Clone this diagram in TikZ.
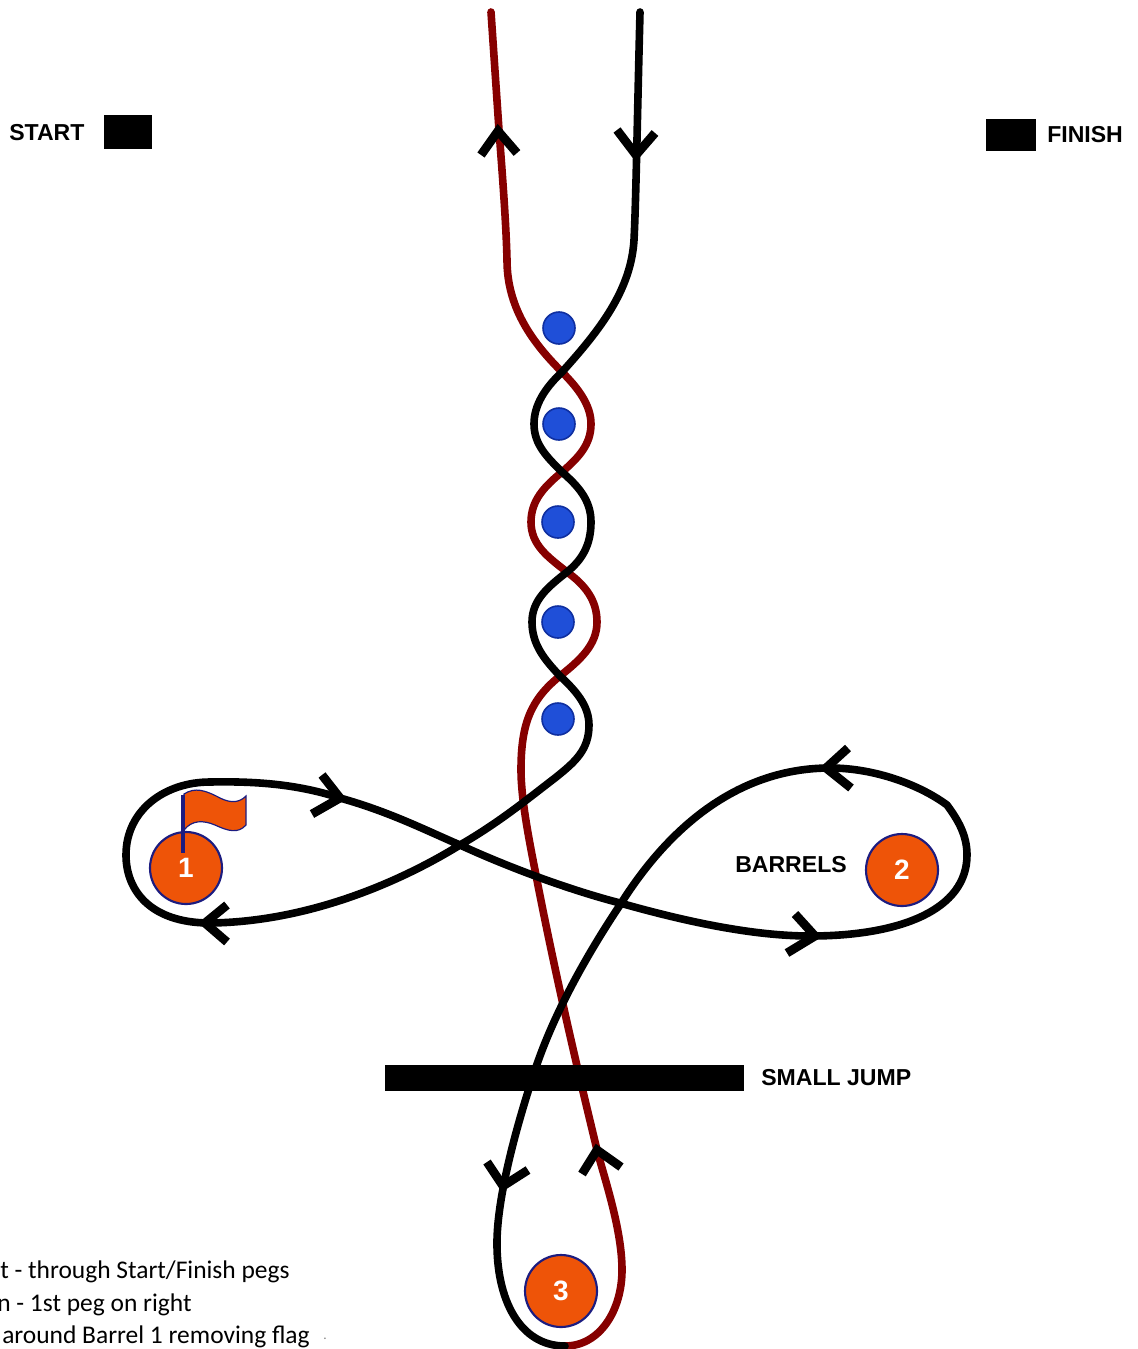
\documentclass[tikz,border=0pt]{standalone}
\usepackage{fontspec}
\setmainfont{Liberation Sans}
\newfontfamily\notefont{Carlito}
\definecolor{barrelc}{HTML}{EE5408}
\definecolor{edgec}{HTML}{1C1C80}
\definecolor{pegc}{HTML}{1F4FD8}
\definecolor{pegedge}{HTML}{0F2FA0}
\definecolor{redpath}{HTML}{860000}
\tikzset{
  x=0.75pt,y=-0.75pt,
  course/.style={line width=5.7pt,line cap=round,line join=round},
  arm/.style={line width=6.6pt,line cap=butt,line join=miter},
  barrel/.style={circle,draw=edgec,fill=barrelc,line width=1.6pt,minimum size=54pt,inner sep=0pt,text=white,font=\fontsize{21}{24}\selectfont\bfseries},
  peg/.style={circle,draw=pegedge,fill=pegc,line width=1.2pt,minimum size=24pt,inner sep=0pt},
  bar/.style={fill=black,draw=none,inner sep=0pt},
  lbl/.style={inner sep=0pt,anchor=west,font=\fontsize{17.3}{20}\selectfont\bfseries},
  note/.style={inner sep=0pt,anchor=base west,font=\notefont\fontsize{19.1}{22}\selectfont},
}
\newcommand{\chev}[6]{\draw[arm,black] (#1,#2) -- (#3,#4) -- (#5,#6);}
\begin{document}
\begin{tikzpicture}
\useasboundingbox (0,0) rectangle (1138,1349);
\clip (0,0) rectangle (1138,1349);
% course
\draw[course,redpath] (565,1346)
 .. controls (600,1346) and (622,1310) .. (622,1270)
 .. controls (622,1230) and (605,1180) .. (597,1150)
 .. controls (590,1120) and (560,1000) .. (535,870)
 .. controls (527,830) and (521,795) .. (521,770)
 .. controls (521,725) and (530,700) .. (560,676)
 .. controls (580,660) and (597,645) .. (597,622)
 .. controls (597,600) and (585,585) .. (567,572)
 .. controls (548,557) and (531,545) .. (531,522)
 .. controls (531,500) and (545,486) .. (562,472)
 .. controls (578,458) and (591,445) .. (591,424)
 .. controls (591,405) and (578,388) .. (562,372)
 .. controls (535,345) and (507,310) .. (507,260)
 .. controls (506,220) and (502,170) .. (499,130)
 -- (491,12);
\draw[course,black] (640,12)
 .. controls (637,130) and (636,200) .. (634,240)
 .. controls (631,290) and (600,330) .. (562,372)
 .. controls (545,388) and (534,405) .. (534,424)
 .. controls (534,445) and (548,458) .. (562,472)
 .. controls (578,486) and (591,500) .. (591,522)
 .. controls (591,545) and (582,560) .. (567,572)
 .. controls (548,587) and (532,600) .. (532,622)
 .. controls (532,645) and (545,660) .. (560,676)
 .. controls (575,690) and (589,705) .. (589,725)
 .. controls (589,750) and (575,762) .. (555,778)
 .. controls (530,797) and (500,822) .. (460,845)
 .. controls (390,888) and (300,922) .. (210,923)
 .. controls (150,923) and (126,890) .. (126,855)
 .. controls (126,810) and (165,782) .. (210,782)
 .. controls (260,781) and (300,785) .. (340,798)
 .. controls (390,812) and (425,830) .. (460,845)
 .. controls (510,868) and (570,890) .. (620,903)
 .. controls (680,920) and (750,936) .. (810,936)
 .. controls (900,936) and (967,910) .. (967,855)
 .. controls (967,835) and (958,820) .. (947,805)
 .. controls (920,785) and (875,768) .. (830,768)
 .. controls (740,768) and (670,825) .. (620,905)
 .. controls (590,950) and (555,1010) .. (535,1070)
 .. controls (520,1115) and (498,1190) .. (497,1240)
 .. controls (496,1300) and (520,1346) .. (565,1346);
% arrow chevrons
\chev{481}{155}{498}{131}{517}{153}
\chev{617}{130}{636}{155}{655}{133}
\chev{322}{775}{340}{798}{312}{814}
\chev{227}{905}{205}{923}{227}{942}
\chev{848}{748}{826}{768}{851}{788}
\chev{795}{914}{815}{936}{787}{953}
\chev{487}{1162}{503}{1186}{528}{1170}
\chev{582}{1174}{597}{1150}{621}{1167}
% bars
\node[bar,minimum width=36pt,minimum height=25.5pt] (startbar) at (128,132) {};
\node[bar,minimum width=37.5pt,minimum height=24pt] (finishbar) at (1011,135) {};
\node[bar,minimum width=269pt,minimum height=19.5pt] (jump) at (564.5,1078) {};
\node[lbl] (startl) at (9,133) {START};
\node[lbl] (finishl) at (1047,135) {FINISH};
\node[lbl] (barrelsl) at (735,865) {BARRELS};
\node[lbl] (jumpl) at (761,1078) {SMALL JUMP};
% pegs
\node[peg] (p1) at (559,328) {};
\node[peg] (p2) at (559,424) {};
\node[peg] (p3) at (558,522) {};
\node[peg] (p4) at (558,622) {};
\node[peg] (p5) at (558,719) {};
% barrels
\node[barrel] (b1) at (186,868) {1};
\node[barrel] (b2) at (902,870) {2};
\node[barrel] (b3) at (561,1291) {3};
% flag
\draw[fill=barrelc,draw=edgec,line width=0.9pt] (184,794) .. controls (195,787) and (205,790) .. (220,798) .. controls (232,804) and (240,802) .. (246,796) -- (246,825) .. controls (238,834) and (228,831) .. (215,825) .. controls (203,820) and (192,820) .. (184,830) -- cycle;
\draw[edgec,line width=2.6pt] (183,795) -- (183,853);
% notes
\node[note] (n1) at (0,1278) {t - through Start/Finish pegs};
\node[note] (n2) at (-3,1311) {n - 1st peg on right};
\node[note] (n3) at (2,1343) {around Barrel 1 removing flag};
\node[inner sep=0pt,text=gray,font=\notefont\fontsize{10}{12}\selectfont] (n4) at (325,1339) {.};
\end{tikzpicture}
\end{document}
